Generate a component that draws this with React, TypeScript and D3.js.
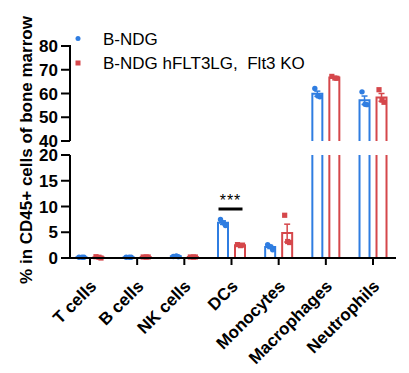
import React from 'react';
import * as d3 from 'd3';

const width = 409;
const height = 373;

const categories = ['T cells', 'B cells', 'NK cells', 'DCs', 'Monocytes', 'Macrophages', 'Neutrophils'];
const groups = ['B-NDG', 'B-NDG hFLT3LG,  Flt3 KO'];

// replicate values per category, one list per group
const bndgPoints = [
  [0.15, 0.15, 0.15],
  [0.15, 0.15, 0.15],
  [0.3, 0.4, 0.25],
  [7.5, 6.8, 6.3],
  [2.6, 2.2, 1.6],
  [62.1, 59.0, 58.6],
  [60.7, 55.5, 55.3]
];
const koPoints = [
  [0.25, 0.15, 0.0],
  [0.2, 0.2, 0.2],
  [0.2, 0.2, 0.2],
  [2.6, 2.4, 2.5],
  [8.3, 3.2, 3.0],
  [67.2, 66.5, 66.4],
  [61.6, 57.2, 56.3]
];

const lowTicks = [0, 5, 10, 15, 20];
const highTicks = [40, 50, 60, 70, 80];

const colors = ['#2f7de1', '#d5474b'];

const mean = (a: number[]) => d3.mean(a) as number;
const sem = (a: number[]) => (d3.deviation(a) || 0) / Math.sqrt(a.length);

const App = () => {
  const axisX = 70;
  const axisRight = 396;
  const x = d3.scaleBand().domain(categories).range([66.4, 396.6]).padding(0);
  const cx = (c: string) => (x(c) as number) + x.bandwidth() / 2;

  const yLow = d3.scaleLinear().domain([0, 20]).range([258, 155]);
  const yHigh = d3.scaleLinear().domain([40, 80]).range([141, 46]);
  const yv = (v: number) => (v <= 20 ? yLow(v) : yHigh(v));

  const barW = 10;
  const offsets = [-8.5, 8.5];
  const jitter = [-2.5, 0.5, 2.5];

  const barPath = (xc: number, v: number) => {
    const l = xc - barW / 2;
    const r = xc + barW / 2;
    const base = yLow(0);
    if (v <= 20) {
      return `M${l},${base}V${yLow(v)}H${r}V${base}`;
    }
    // broken bar: lower stubs + upper part
    return `M${l},${base}V${yLow(20)}M${r},${base}V${yLow(20)}` +
      `M${l},${yHigh(40)}V${yHigh(v)}H${r}V${yHigh(40)}`;
  };

  const series = [bndgPoints, koPoints];

  return (
    <div style={{ position: 'absolute', left: 0, top: 0 }}>
      <svg width={width} height={height} style={{ display: 'block', background: '#fff' }}
        fontFamily="'Liberation Sans', Arial, sans-serif">
        {/* Y axis, two segments */}
        <line x1={axisX} x2={axisX} y1={yHigh(80) - 1} y2={yHigh(40)} stroke="#000" strokeWidth={2} />
        <line x1={axisX} x2={axisX} y1={yLow(20)} y2={yLow(0)} stroke="#000" strokeWidth={2} />
        {highTicks.map(t => (
          <g key={'h' + t}>
            <line x1={axisX - 9} x2={axisX} y1={yHigh(t)} y2={yHigh(t)} stroke="#000" strokeWidth={2} />
            <text x={axisX - 12} y={yHigh(t)} dy="0.36em" textAnchor="end" fontSize={17} fontWeight="bold">{t}</text>
          </g>
        ))}
        {lowTicks.map(t => (
          <g key={'l' + t}>
            <line x1={axisX - 9} x2={axisX} y1={yLow(t)} y2={yLow(t)} stroke="#000" strokeWidth={2} />
            <text x={axisX - 12} y={yLow(t)} dy="0.36em" textAnchor="end" fontSize={17} fontWeight="bold">{t}</text>
          </g>
        ))}

        {/* Y label */}
        <text transform={`translate(32,150) rotate(-90)`} textAnchor="middle" fontSize={17} fontWeight="bold">
          % in CD45+ cells of bone marrow
        </text>

        {/* Bars, error bars and points */}
        {categories.map((c, i) => (
          <g key={c}>
            {series.map((s, g) => {
              const pts = s[i];
              const m = mean(pts);
              const e = sem(pts);
              const xc = cx(c) + offsets[g];
              return (
                <g key={g}>
                  <path d={barPath(xc, m)} fill="none" stroke={colors[g]} strokeWidth={2} />
                  {e > 0.05 && (
                    <g stroke={colors[g]} strokeWidth={1.5}>
                      <line x1={xc} x2={xc} y1={yv(m - e)} y2={yv(m + e)} />
                      <line x1={xc - 3} x2={xc + 3} y1={yv(m + e)} y2={yv(m + e)} />
                      <line x1={xc - 3} x2={xc + 3} y1={yv(m - e)} y2={yv(m - e)} />
                    </g>
                  )}
                  {pts.map((p, k) => g === 0 ? (
                    <circle key={k} cx={xc + jitter[k]} cy={yv(p)} r={2.7} fill={colors[g]} />
                  ) : (
                    <rect key={k} x={xc + jitter[k] - 2.6} y={yv(p) - 2.6} width={5.2} height={5.2} fill={colors[g]} />
                  ))}
                </g>
              );
            })}
          </g>
        ))}

        {/* X axis */}
        <line x1={axisX - 1} x2={axisRight} y1={yLow(0)} y2={yLow(0)} stroke="#000" strokeWidth={2} />
        {categories.map(c => (
          <g key={'t' + c}>
            <line x1={cx(c)} x2={cx(c)} y1={yLow(0)} y2={yLow(0) + 7} stroke="#000" strokeWidth={2} />
            <text transform={`translate(${cx(c) - 1},${yLow(0) + 21}) rotate(-45)`} textAnchor="end"
              dy="0.7em" fontSize={17} fontWeight="bold">{c}</text>
          </g>
        ))}

        {/* significance */}
        <line x1={cx('DCs') - 13} x2={cx('DCs') + 11} y1={209} y2={209} stroke="#000" strokeWidth={3} />
        <text x={cx('DCs') - 1} y={206} textAnchor="middle" fontSize={16} letterSpacing={1}>***</text>

        {/* Legend */}
        {groups.map((gname, g) => (
          <g key={gname} transform={`translate(78,${38.5 + g * 24.5})`}>
            {g === 0
              ? <circle r={2.5} fill={colors[g]} />
              : <rect x={-2.5} y={-2.5} width={5} height={5} fill={colors[g]} />}
            <text x={25} dy="0.36em" fontSize={17} style={{ whiteSpace: 'pre' }}>{gname}</text>
          </g>
        ))}
      </svg>
    </div>
  );
};

export default App;
